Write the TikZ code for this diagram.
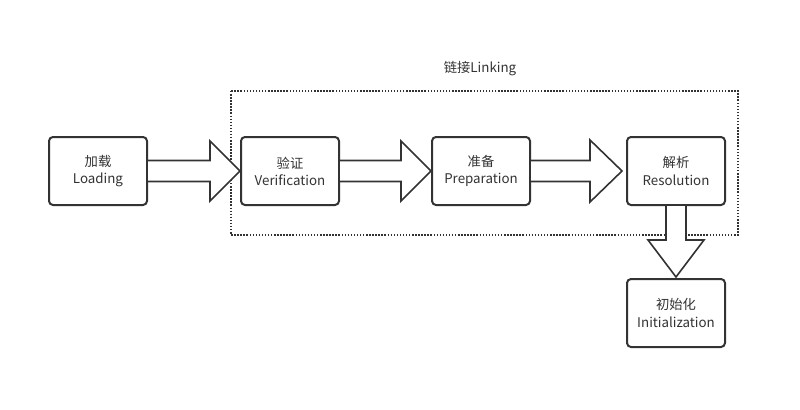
\documentclass[tikz,border=0pt]{standalone}
\usepackage{fontspec}
\setmainfont{Noto Sans CJK SC}
\usetikzlibrary{calc}
\definecolor{ink}{HTML}{333333}
\tikzset{
  stage/.style={draw=ink, line width=1.5pt, rounded corners=3pt, fill=white,
    minimum width=73.5pt, minimum height=51pt, inner sep=0pt,
    align=center, text=ink, font=\fontsize{10pt}{12.8pt}\selectfont},
  barrow/.style={draw=ink, line width=1.2pt, fill=white, line join=miter},
  group/.style={draw=ink, line width=1.1pt, dash pattern=on 1.1pt off 1.2pt},
  lbl/.style={text=ink, font=\fontsize{10pt}{12pt}\selectfont, inner sep=0pt}
}
\begin{document}
\begin{tikzpicture}[x=0.75pt, y=-0.75pt]
\useasboundingbox (0,0) rectangle (800,410);
\draw[group] (231,91) rectangle (738,235);
\node[lbl] (linking) at (480,69) {链接Linking};
\node[stage] (load) at (98,171) {加载\\Loading};
\node[stage] (ver) at (290,171) {验证\\Verification};
\node[stage] (prep) at (481,171) {准备\\Preparation};
\node[stage] (res) at (676,171) {解析\\Resolution};
\node[stage] (init) at (676,313) {初始化\\Initialization};
% block arrows
\coordinate (t1) at (ver.west);
\draw[barrow] ($(load.east)+(0,-10.5)$) -- ($(t1)+(-30,-10.5)$) -- ($(t1)+(-30,-30)$) -- (t1)
  -- ($(t1)+(-30,30)$) -- ($(t1)+(-30,10.5)$) -- ($(load.east)+(0,10.5)$);
\coordinate (t2) at (prep.west);
\draw[barrow] ($(ver.east)+(0,-10.5)$) -- ($(t2)+(-30,-10.5)$) -- ($(t2)+(-30,-30)$) -- (t2)
  -- ($(t2)+(-30,30)$) -- ($(t2)+(-30,10.5)$) -- ($(ver.east)+(0,10.5)$);
\coordinate (t3) at ($(res.west)+(-4,0)$);
\draw[barrow] ($(prep.east)+(0,-10.5)$) -- ($(t3)+(-32,-10.5)$) -- ($(t3)+(-32,-31)$) -- (t3)
  -- ($(t3)+(-32,31)$) -- ($(t3)+(-32,10.5)$) -- ($(prep.east)+(0,10.5)$);
\coordinate (t4) at ($(init.north)+(0,-1)$);
\draw[barrow] ($(res.south)+(-10,0)$) -- ($(t4)+(-10,-37)$) -- ($(t4)+(-28,-37)$) -- (t4)
  -- ($(t4)+(28,-37)$) -- ($(t4)+(10,-37)$) -- ($(res.south)+(10,0)$);
\end{tikzpicture}
\end{document}
